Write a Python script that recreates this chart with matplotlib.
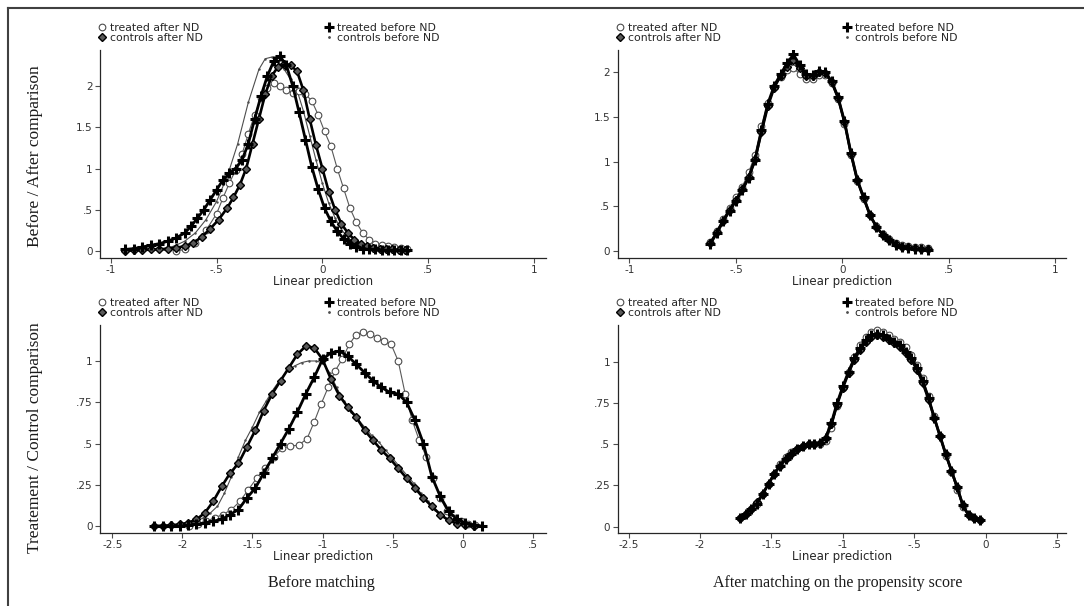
import matplotlib
matplotlib.use("Agg")
import matplotlib.pyplot as plt
from matplotlib.lines import Line2D

# ---- top left: before / after, before matching ----
tl_ta_x = [-0.69, -0.65, -0.6, -0.55, -0.5, -0.47, -0.44, -0.41, -0.38, -0.35, -0.32, -0.29,
           -0.26, -0.23, -0.2, -0.17, -0.14, -0.11, -0.08, -0.05, -0.02, 0.01, 0.04, 0.07,
           0.1, 0.13, 0.16, 0.19, 0.22, 0.25, 0.28, 0.31, 0.34, 0.37, 0.4]
tl_ta_y = [0.0, 0.02, 0.1, 0.25, 0.45, 0.64, 0.82, 0.98, 1.17, 1.42, 1.65, 1.85,
           1.98, 2.04, 2.0, 1.95, 1.92, 1.94, 1.9, 1.82, 1.65, 1.45, 1.27, 1.0,
           0.76, 0.52, 0.35, 0.22, 0.14, 0.09, 0.07, 0.06, 0.05, 0.04, 0.03]

tl_tb_x = [-0.93, -0.89, -0.85, -0.81, -0.77, -0.73, -0.69, -0.65, -0.62, -0.59, -0.56, -0.53,
           -0.5, -0.47, -0.44, -0.41, -0.38, -0.35, -0.32, -0.29, -0.26, -0.23, -0.2, -0.17,
           -0.14, -0.11, -0.08, -0.05, -0.02, 0.01, 0.04, 0.07, 0.1, 0.13, 0.16, 0.19,
           0.22, 0.25, 0.28, 0.31, 0.34, 0.37, 0.4]
tl_tb_y = [0.02, 0.03, 0.05, 0.07, 0.09, 0.12, 0.16, 0.22, 0.3, 0.4, 0.5, 0.62,
           0.74, 0.86, 0.94, 1.0, 1.1, 1.3, 1.6, 1.88, 2.12, 2.3, 2.36, 2.25,
           2.0, 1.68, 1.35, 1.02, 0.75, 0.52, 0.36, 0.24, 0.15, 0.09, 0.05, 0.03,
           0.02, 0.02, 0.01, 0.01, 0.01, 0.01, 0.01]

tl_ca_x = [-0.93, -0.89, -0.85, -0.81, -0.77, -0.73, -0.69, -0.65, -0.61, -0.57, -0.53, -0.49,
           -0.45, -0.42, -0.39, -0.36, -0.33, -0.3, -0.27, -0.24, -0.21, -0.18, -0.15, -0.12,
           -0.09, -0.06, -0.03, 0.0, 0.03, 0.06, 0.09, 0.12, 0.15, 0.18, 0.21, 0.24,
           0.27, 0.3, 0.33, 0.36, 0.39]
tl_ca_y = [0.0, 0.01, 0.01, 0.02, 0.02, 0.03, 0.04, 0.06, 0.1, 0.17, 0.27, 0.38,
           0.52, 0.65, 0.8, 1.0, 1.3, 1.6, 1.9, 2.12, 2.23, 2.27, 2.25, 2.18,
           1.95, 1.6, 1.28, 1.0, 0.72, 0.5, 0.33, 0.22, 0.14, 0.09, 0.06, 0.04,
           0.03, 0.02, 0.02, 0.01, 0.01]

tl_cb_x = [-0.8, -0.75, -0.7, -0.65, -0.6, -0.55, -0.5, -0.45, -0.4, -0.35, -0.3, -0.27,
           -0.24, -0.21, -0.18, -0.15, -0.12, -0.09, -0.06, -0.03, 0.0, 0.03, 0.06, 0.09,
           0.12, 0.15, 0.2, 0.25, 0.3, 0.35]
tl_cb_y = [0.01, 0.03, 0.06, 0.12, 0.22, 0.38, 0.6, 0.9, 1.3, 1.8, 2.2, 2.33,
           2.35, 2.3, 2.2, 2.08, 1.95, 1.7, 1.4, 1.1, 0.82, 0.58, 0.4, 0.26,
           0.16, 0.1, 0.05, 0.02, 0.01, 0.0]

# ---- top right: before / after, after matching ----
tr_x = [-0.62, -0.59, -0.56, -0.53, -0.5, -0.47, -0.44, -0.41, -0.38, -0.35, -0.32, -0.29,
        -0.26, -0.23, -0.2, -0.17, -0.14, -0.11, -0.08, -0.05, -0.02, 0.01, 0.04, 0.07,
        0.1, 0.13, 0.16, 0.19, 0.22, 0.25, 0.28, 0.31, 0.34, 0.37, 0.4]
tr_tb_y = [0.08, 0.2, 0.33, 0.45, 0.56, 0.68, 0.82, 1.02, 1.35, 1.65, 1.85, 1.98,
           2.1, 2.2, 2.08, 1.98, 1.97, 2.02, 2.0, 1.9, 1.72, 1.45, 1.1, 0.8,
           0.6, 0.4, 0.27, 0.18, 0.12, 0.07, 0.05, 0.03, 0.02, 0.02, 0.01]
tr_ca_y = [0.09, 0.21, 0.34, 0.46, 0.57, 0.69, 0.83, 1.03, 1.33, 1.62, 1.83, 1.96,
           2.06, 2.14, 2.05, 1.96, 1.96, 2.0, 1.99, 1.89, 1.71, 1.44, 1.09, 0.79,
           0.59, 0.4, 0.27, 0.18, 0.12, 0.08, 0.05, 0.04, 0.03, 0.02, 0.02]
tr_ta_y = [0.1, 0.22, 0.36, 0.48, 0.6, 0.72, 0.88, 1.08, 1.4, 1.66, 1.84, 1.95,
           2.03, 2.05, 1.98, 1.93, 1.92, 1.97, 1.97, 1.88, 1.7, 1.42, 1.07, 0.78,
           0.58, 0.4, 0.28, 0.19, 0.13, 0.09, 0.07, 0.06, 0.05, 0.04, 0.03]
tr_cb_y = [0.08, 0.2, 0.33, 0.45, 0.57, 0.69, 0.84, 1.04, 1.36, 1.64, 1.84, 1.97,
           2.08, 2.16, 2.06, 1.97, 1.96, 2.01, 2.0, 1.9, 1.72, 1.45, 1.1, 0.8,
           0.6, 0.4, 0.27, 0.18, 0.12, 0.07, 0.05, 0.03, 0.02, 0.02, 0.01]

# ---- bottom left: treatment / control, before matching ----
bl_ca_x = [-2.2, -2.14, -2.08, -2.02, -1.96, -1.9, -1.84, -1.78, -1.72, -1.66, -1.6, -1.54,
           -1.48, -1.42, -1.36, -1.3, -1.24, -1.18, -1.12, -1.06, -1.0, -0.94, -0.88, -0.82,
           -0.76, -0.7, -0.64, -0.58, -0.52, -0.46, -0.4, -0.34, -0.28, -0.22, -0.16, -0.1,
           -0.04, 0.02, 0.08]
bl_ca_y = [0.0, 0.0, 0.005, 0.01, 0.02, 0.04, 0.08, 0.15, 0.24, 0.32, 0.38, 0.48,
           0.58, 0.7, 0.8, 0.88, 0.96, 1.04, 1.09, 1.08, 1.01, 0.89, 0.79, 0.72,
           0.66, 0.58, 0.52, 0.46, 0.41, 0.35, 0.29, 0.23, 0.17, 0.12, 0.07, 0.035,
           0.015, 0.005, 0.0]

bl_tb_x = [-2.2, -2.14, -2.08, -2.02, -1.96, -1.9, -1.84, -1.78, -1.72, -1.66, -1.6, -1.54,
           -1.48, -1.42, -1.36, -1.3, -1.24, -1.18, -1.12, -1.06, -1.0, -0.94, -0.88, -0.82,
           -0.76, -0.7, -0.64, -0.58, -0.52, -0.46, -0.4, -0.34, -0.28, -0.22, -0.16, -0.1,
           -0.04, 0.02, 0.08, 0.14]
bl_tb_y = [0.0, 0.0, 0.0, 0.0, 0.005, 0.01, 0.02, 0.03, 0.04, 0.07, 0.1, 0.17,
           0.23, 0.32, 0.41, 0.5, 0.59, 0.69, 0.8, 0.9, 1.01, 1.05, 1.06, 1.03,
           0.98, 0.93, 0.88, 0.84, 0.81, 0.8, 0.75, 0.64, 0.5, 0.3, 0.18, 0.09,
           0.04, 0.02, 0.005, 0.0]

bl_ta_x = [-1.95, -1.89, -1.83, -1.77, -1.71, -1.65, -1.59, -1.53, -1.47, -1.41, -1.35, -1.29,
           -1.23, -1.17, -1.11, -1.06, -1.01, -0.96, -0.91, -0.86, -0.81, -0.76, -0.71, -0.66,
           -0.61, -0.56, -0.51, -0.46, -0.41, -0.36, -0.31, -0.26, -0.21, -0.16, -0.11, -0.06,
           -0.01, 0.04, 0.09]
bl_ta_y = [0.0, 0.01, 0.03, 0.05, 0.07, 0.1, 0.15, 0.22, 0.29, 0.35, 0.42, 0.47,
           0.485, 0.49, 0.53, 0.63, 0.74, 0.84, 0.94, 1.01, 1.1, 1.16, 1.175, 1.165,
           1.14, 1.12, 1.1, 1.0, 0.8, 0.64, 0.52, 0.42, 0.29, 0.17, 0.09, 0.05,
           0.03, 0.01, 0.005]

bl_cb_x = [-1.95, -1.9, -1.85, -1.8, -1.75, -1.7, -1.65, -1.6, -1.55, -1.5, -1.45, -1.4,
           -1.35, -1.3, -1.25, -1.2, -1.15, -1.1, -1.05, -1.0, -0.95, -0.9, -0.85, -0.8,
           -0.75, -0.7, -0.65, -0.6, -0.55, -0.5, -0.45, -0.4, -0.35, -0.3, -0.25, -0.2,
           -0.15, -0.1, -0.05, 0.0]
bl_cb_y = [0.01, 0.03, 0.05, 0.08, 0.12, 0.2, 0.3, 0.42, 0.52, 0.6, 0.69, 0.76,
           0.83, 0.89, 0.94, 0.97, 0.99, 1.0, 1.0, 0.99, 0.93, 0.84, 0.76, 0.69,
           0.65, 0.6, 0.55, 0.51, 0.46, 0.41, 0.36, 0.31, 0.26, 0.2, 0.15, 0.1,
           0.06, 0.03, 0.015, 0.005]

# ---- bottom right: treatment / control, after matching ----
br_x = [-1.72, -1.68, -1.64, -1.6, -1.56, -1.52, -1.48, -1.44, -1.4, -1.36, -1.32, -1.28,
        -1.24, -1.2, -1.16, -1.12, -1.08, -1.04, -1.0, -0.96, -0.92, -0.88, -0.84, -0.8,
        -0.76, -0.72, -0.68, -0.64, -0.6, -0.56, -0.52, -0.48, -0.44, -0.4, -0.36, -0.32,
        -0.28, -0.24, -0.2, -0.16, -0.12, -0.08, -0.04]
br_tb_y = [0.05, 0.08, 0.11, 0.14, 0.2, 0.26, 0.32, 0.37, 0.41, 0.44, 0.47, 0.49,
           0.5, 0.5, 0.51, 0.54, 0.63, 0.75, 0.85, 0.94, 1.02, 1.08, 1.13, 1.16,
           1.17, 1.16, 1.14, 1.12, 1.1, 1.06, 1.02, 0.96, 0.88, 0.78, 0.66, 0.55,
           0.44, 0.34, 0.24, 0.13, 0.07, 0.05, 0.04]
br_ca_y = [0.05, 0.08, 0.11, 0.15, 0.2, 0.26, 0.32, 0.37, 0.41, 0.44, 0.47, 0.49,
           0.5, 0.5, 0.51, 0.54, 0.62, 0.74, 0.84, 0.93, 1.01, 1.07, 1.12, 1.15,
           1.16, 1.15, 1.13, 1.11, 1.09, 1.05, 1.01, 0.95, 0.87, 0.77, 0.66, 0.55,
           0.44, 0.34, 0.24, 0.13, 0.07, 0.05, 0.04]
br_ta_y = [0.05, 0.08, 0.11, 0.14, 0.2, 0.26, 0.32, 0.38, 0.42, 0.45, 0.47, 0.49,
           0.5, 0.5, 0.5, 0.52, 0.6, 0.73, 0.84, 0.94, 1.03, 1.1, 1.15, 1.18,
           1.19, 1.18, 1.16, 1.14, 1.12, 1.09, 1.04, 0.98, 0.9, 0.79, 0.67, 0.55,
           0.43, 0.33, 0.22, 0.12, 0.07, 0.05, 0.04]
br_cb_y = [0.05, 0.08, 0.11, 0.14, 0.2, 0.26, 0.32, 0.37, 0.41, 0.44, 0.47, 0.49,
           0.5, 0.5, 0.51, 0.55, 0.63, 0.75, 0.85, 0.94, 1.02, 1.08, 1.13, 1.16,
           1.17, 1.16, 1.14, 1.12, 1.1, 1.06, 1.02, 0.96, 0.88, 0.78, 0.66, 0.55,
           0.44, 0.34, 0.24, 0.13, 0.07, 0.05, 0.04]

legend_labels = ["treated after ND", "controls after ND", "treated before ND", "controls before ND"]

top_xticks = [-1, -0.5, 0, 0.5, 1]
top_xlabels = ["-1", "-.5", "0", ".5", "1"]
top_yticks = [0, 0.5, 1, 1.5, 2]
top_ylabels = ["0", ".5", "1", "1.5", "2"]
bot_xticks = [-2.5, -2, -1.5, -1, -0.5, 0, 0.5]
bot_xlabels = ["-2.5", "-2", "-1.5", "-1", "-.5", "0", ".5"]
bot_yticks = [0, 0.25, 0.5, 0.75, 1]
bot_ylabels = ["0", ".25", ".5", ".75", "1"]

SANS = "DejaVu Sans"
SERIF = "Liberation Serif"

# marker styles for the four series
st_ta = dict(color="0.35", lw=0.8, marker="o", ms=4.8, mfc="white", mec="0.3", mew=0.8)
st_ca = dict(color="black", lw=1.9, marker="D", ms=4.2, mfc="0.35", mec="black", mew=1.0)
st_tb = dict(color="black", lw=2.0, marker="+", ms=7, mec="black", mew=2.2)
st_cb = dict(color="0.3", lw=0.8, marker=".", ms=1.5)


def draw_panel(ax, ta, ca, tb, cb, xlim, ylim, xt, xl, yt, yl):
    ax.plot(cb[0], cb[1], **st_cb)
    ax.plot(ta[0], ta[1], **st_ta)
    ax.plot(ca[0], ca[1], **st_ca)
    ax.plot(tb[0], tb[1], **st_tb)
    ax.set_xlim(*xlim)
    ax.set_ylim(*ylim)
    ax.set_xticks(xt)
    ax.set_xticklabels(xl)
    ax.set_yticks(yt)
    ax.set_yticklabels(yl)
    for s in ["top", "right"]:
        ax.spines[s].set_visible(False)
    for s in ["left", "bottom"]:
        ax.spines[s].set_linewidth(0.9)
        ax.spines[s].set_color("0.15")
    ax.tick_params(axis="both", direction="out", length=3.5, width=0.8, color="0.3",
                   labelsize=7.5, labelcolor="0.2", pad=2)
    for t in ax.get_xticklabels() + ax.get_yticklabels():
        t.set_family(SANS)
    ax.set_xlabel("Linear prediction", fontsize=8.5, family=SANS, color="0.15", labelpad=0)

    handles = [Line2D([], [], ls="none", **{k: v for k, v in st_ta.items() if k not in ("lw", "color")}),
               Line2D([], [], ls="none", **{k: v for k, v in st_ca.items() if k not in ("lw", "color")}),
               Line2D([], [], ls="none", **{k: v for k, v in st_tb.items() if k not in ("lw", "color")}),
               Line2D([], [], ls="none", color="0.3", marker=".", ms=2)]
    leg = ax.legend(handles, legend_labels, ncol=2, loc="lower left",
                    bbox_to_anchor=(-0.005, 1.035), frameon=False, fontsize=7.8,
                    handlelength=0.7, handletextpad=0.4, columnspacing=11.3,
                    labelspacing=0.02, borderpad=0, borderaxespad=0)
    for t in leg.get_texts():
        t.set_family(SANS)
        t.set_color("0.15")


fig = plt.figure(figsize=(10.84, 6.06), dpi=100)
fig.patch.set_facecolor("white")

ax_tl = fig.add_axes([0.0923, 0.5748, 0.4114, 0.3427])
ax_tr = fig.add_axes([0.5701, 0.5748, 0.4130, 0.3427])
ax_bl = fig.add_axes([0.0923, 0.1210, 0.4114, 0.3427])
ax_br = fig.add_axes([0.5701, 0.1210, 0.4130, 0.3427])

draw_panel(ax_tl, (tl_ta_x, tl_ta_y), (tl_ca_x, tl_ca_y), (tl_tb_x, tl_tb_y), (tl_cb_x, tl_cb_y),
           (-1.05, 1.056), (-0.08, 2.436), top_xticks, top_xlabels, top_yticks, top_ylabels)
draw_panel(ax_tr, (tr_x, tr_ta_y), (tr_x, tr_ca_y), (tr_x, tr_tb_y), (tr_x, tr_cb_y),
           (-1.054, 1.049), (-0.075, 2.25), top_xticks, top_xlabels, top_yticks, top_ylabels)
draw_panel(ax_bl, (bl_ta_x, bl_ta_y), (bl_ca_x, bl_ca_y), (bl_tb_x, bl_tb_y), (bl_cb_x, bl_cb_y),
           (-2.588, 0.595), (-0.04, 1.218), bot_xticks, bot_xlabels, bot_yticks, bot_ylabels)
draw_panel(ax_br, (br_x, br_ta_y), (br_x, br_ca_y), (br_x, br_tb_y), (br_x, br_cb_y),
           (-2.574, 0.56), (-0.036, 1.222), bot_xticks, bot_xlabels, bot_yticks, bot_ylabels)

ax_tl.set_ylabel("Before / After comparison", fontsize=12.5, family=SERIF, color="0.1")
ax_tl.yaxis.set_label_coords(-0.128, 0.49)
ax_bl.set_ylabel("Treatement / Control comparison", fontsize=12.5, family=SERIF, color="0.1")
ax_bl.yaxis.set_label_coords(-0.128, 0.46)

fig.text(321 / 1084, 1 - 583 / 606, "Before matching", ha="center", va="center",
         fontsize=11.5, family=SERIF, color="0.1")
fig.text(838 / 1084, 1 - 583 / 606, "After matching on the propensity score", ha="center",
         va="center", fontsize=11.5, family=SERIF, color="0.1")

# scanned page frame (left and top edges)
fig.add_artist(Line2D([8 / 1084, 8 / 1084], [0, 1 - 8 / 606], color="0.25", lw=1.5))
fig.add_artist(Line2D([8 / 1084, 1], [1 - 8 / 606, 1 - 8 / 606], color="0.25", lw=1.5))

fig.savefig("out.png", dpi=100, facecolor="white")
